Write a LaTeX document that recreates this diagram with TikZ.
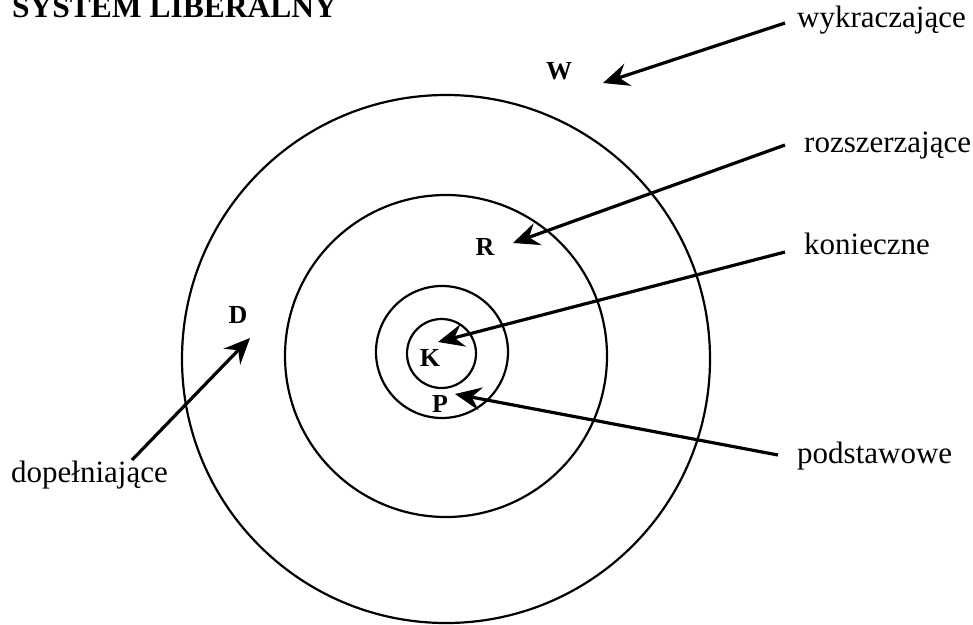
\documentclass[tikz,border=0pt]{standalone}
\usepackage{fontspec}
\setmainfont{Liberation Serif}
\usetikzlibrary{arrows.meta}
\begin{document}
\begin{tikzpicture}[x=1pt,y=-1pt,
  ring/.style={line width=2.2pt},
  pointer/.style={line width=3.2pt,-{Stealth[length=26pt,width=23pt,inset=9pt]}},
  lbl/.style={inner sep=0pt,anchor=base west,font=\fontsize{31}{31}\selectfont},
  letter/.style={inner sep=0pt,font=\fontsize{26}{26}\selectfont\bfseries}]
\useasboundingbox (0,0) rectangle (973,624);
% rings
\draw[ring] (446,359) circle (264);
\draw[ring] (446,356) circle (161);
\draw[ring] (442,352) circle (66);
\draw[ring] (441.5,353.5) circle (34.5);
% title
\node[inner sep=0pt,anchor=base west,font=\fontsize{31.5}{31.5}\selectfont\bfseries] (title) at (12,17) {SYSTEM LIBERALNY};
% letters
\node[letter] (W) at (559,71) {W};
\node[letter] (R) at (485,247) {R};
\node[letter] (D) at (238,315) {D};
\node[letter] (K) at (430,358) {K};
\node[letter] (P) at (440,404) {P};
% labels
\node[lbl] (wyk) at (797,27) {wykraczające};
\node[lbl] (roz) at (804,152) {rozszerzające};
\node[lbl] (kon) at (804,254) {konieczne};
\node[lbl] (pod) at (797,463) {podstawowe};
\node[lbl] (dop) at (11,482) {dopełniające};
% connector ends
\coordinate (wykS) at (785,23);
\coordinate (wykT) at (603,83);
\coordinate (rozS) at (785,145);
\coordinate (rozT) at (513,243);
\coordinate (konS) at (785,252);
\coordinate (konT) at (438,342);
\coordinate (podS) at (778,455);
\coordinate (podT) at (455,394);
\coordinate (dopS) at (132,460);
\coordinate (dopT) at (250,338);
% arrows
\draw[pointer] (wykS) -- (wykT);
\draw[pointer] (rozS) -- (rozT);
\draw[pointer] (konS) -- (konT);
\draw[pointer] (podS) -- (podT);
\draw[pointer] (dopS) -- (dopT);
\end{tikzpicture}
\end{document}
